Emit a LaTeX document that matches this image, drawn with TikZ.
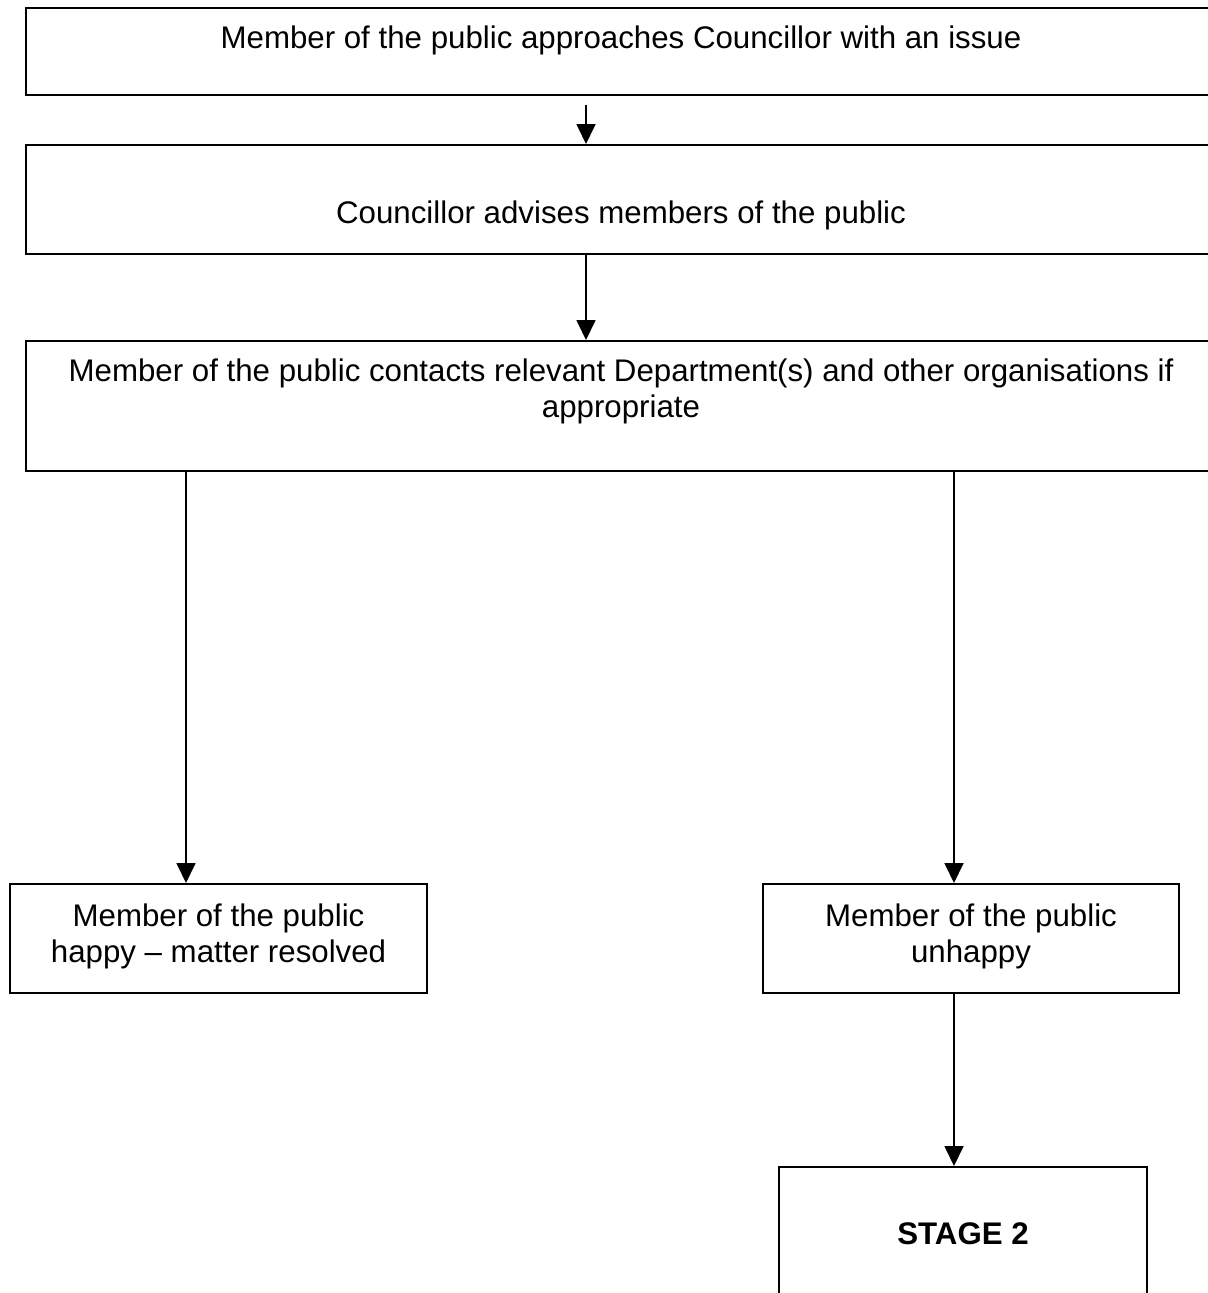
\documentclass[tikz,border=0pt]{standalone}
\usepackage{fontspec}
\setmainfont{Liberation Sans}
\usetikzlibrary{positioning,arrows.meta,calc}

\begin{document}
\begin{tikzpicture}[x=0.4pt,y=-0.4pt,
  font=\fontsize{12.5}{14.4}\selectfont,
  box/.style={draw,line width=0.8pt,inner sep=0pt,anchor=north west},
  boxtext/.style={anchor=north,inner sep=0pt,align=center},
  arr/.style={-{Triangle[length=8pt,width=7.6pt]},line width=0.7pt}]

\useasboundingbox (0,0) rectangle (1207,1293);

% main column
\node[box,minimum width=476pt,minimum height=34.8pt] (approach) at (25,7) {};
\node[boxtext] (approachtxt) at ($(approach.north)+(0,18)$)
  {Member of the public approaches Councillor with an issue};

\node[box,minimum width=476pt,minimum height=43.6pt] (advise) at (25,144) {};
\node[boxtext] (advisetxt) at ($(advise.north)+(0,56)$)
  {Councillor advises members of the public};

\node[box,minimum width=476pt,minimum height=52pt] (contact) at (25,340) {};
\node[boxtext] (contacttxt) at ($(contact.north)+(0,18)$)
  {Member of the public contacts relevant Department(s) and other organisations if\\
   appropriate};

% outcomes
\node[box,minimum width=166.8pt,minimum height=43.6pt] (happy) at (9,883) {};
\node[boxtext] (happytxt) at ($(happy.north)+(0,20)$)
  {Member of the public\\ happy -- matter resolved};

\node[box,minimum width=166.4pt,minimum height=43.6pt] (unhappy) at (762,883) {};
\node[boxtext] (unhappytxt) at ($(unhappy.north)+(0,20)$)
  {Member of the public\\ unhappy};

\node[box,minimum width=147.2pt,minimum height=60pt] (stage) at (778,1166) {};
\node[boxtext,font=\fontsize{12.5}{14.4}\selectfont\bfseries] (stagetxt)
  at ($(stage.north)+(0,56)$) {STAGE 2};

% connectors
\coordinate (midline) at (586,0);
\coordinate (leftline) at (186,0);
\coordinate (rightline) at (954,0);

\draw[arr] ($(approach.south -| midline)+(0,9)$) -- (advise.north -| midline);
\draw[arr] (advise.south -| midline) -- (contact.north -| midline);
\draw[arr] (contact.south -| leftline) -- (happy.north -| leftline);
\draw[arr] (contact.south -| rightline) -- (unhappy.north -| rightline);
\draw[arr] (unhappy.south -| rightline) -- (stage.north -| rightline);

\end{tikzpicture}
\end{document}
